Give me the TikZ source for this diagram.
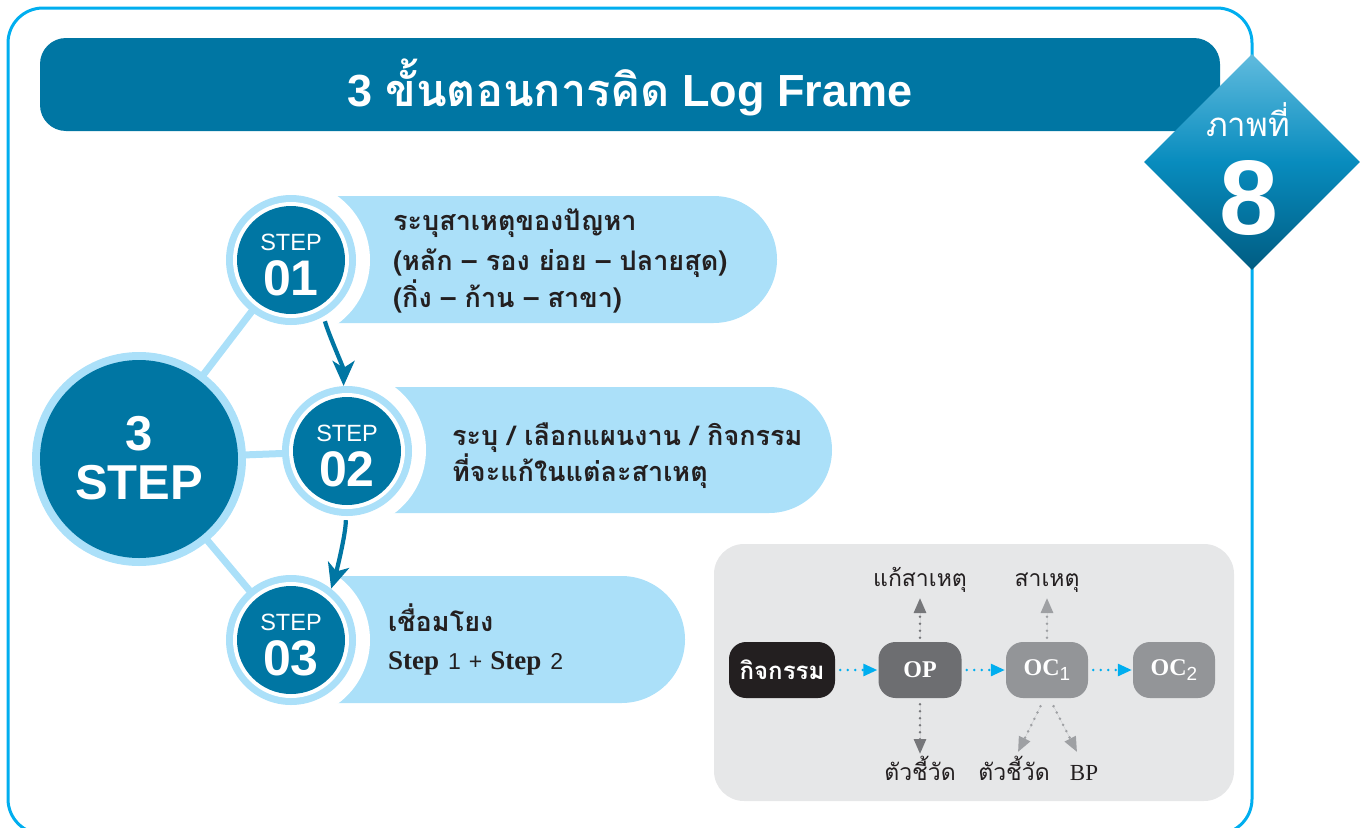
\documentclass[tikz,border=0pt]{standalone}
\usepackage{fontspec}
\setmainfont{Liberation Sans}
\newfontfamily\thai[Script=Thai]{Loma}
\newfontfamily\tms{Liberation Serif}
\usetikzlibrary{arrows.meta,shapes.geometric,shapes.misc}
\definecolor{frameC}{RGB}{0,174,239}
\definecolor{tealC}{RGB}{0,118,163}
\definecolor{lightb}{RGB}{171,224,249}
\definecolor{boxgray}{RGB}{230,231,232}
\definecolor{ink}{RGB}{35,31,32}
\definecolor{opgray}{RGB}{109,110,113}
\definecolor{ocgray}{RGB}{147,149,152}
\definecolor{arrgrayA}{RGB}{118,119,122}
\definecolor{arrgrayB}{RGB}{158,160,163}
\definecolor{dgTop}{RGB}{96,187,222}
\definecolor{dgMid}{RGB}{8,140,190}
\definecolor{dgBot}{RGB}{0,92,130}
\newcommand\setfs[2]{\fontsize{#1}{#2}\selectfont}
\pgfdeclarelayer{bg}
\pgfdeclarelayer{mid}
\pgfsetlayers{bg,mid,main}
\begin{document}
\begin{tikzpicture}[x=1pt,y=-1pt,
  stepring/.style={circle,fill=lightb,minimum size=130pt,inner sep=0pt},
  pill/.style={rounded rectangle,rounded rectangle left arc=none,fill=lightb,inner sep=0pt},
  steptop/.style={anchor=base,text=white,inner sep=0pt,font=\setfs{23.5}{24}},
  stepnum/.style={anchor=base,text=white,inner sep=0pt,font=\setfs{50}{50}\bfseries},
  boxtxt/.style={anchor=base west,text=ink,inner sep=0pt,font=\thai\setfs{27}{30}\bfseries},
  gnode/.style={rounded corners=17pt,minimum height=56pt,inner sep=0pt,text=white},
  lbl/.style={anchor=base,text=ink,inner sep=0pt},
  cyarrow/.style={draw=frameC,line width=2.8pt,line cap=round,dash pattern=on 0pt off 7.5pt,
     -{Triangle[length=14pt,width=12pt]},shorten <=5pt,shorten >=1pt},
  garrow/.style={line width=2.8pt,line cap=round,dash pattern=on 0pt off 7pt,
     -{Triangle[length=15pt,width=12pt]}},
  tealarrow/.style={draw=tealC,line width=4.2pt,-{Stealth[length=25pt,width=22pt,inset=7pt]}}
]
\useasboundingbox (0,0) rectangle (1370,827);

\begin{pgfonlayer}{bg}
  % outer frame
  \draw[frameC,line width=3pt,rounded corners=35pt] (8,8) rectangle (1252,834);
  % pills
  \node[pill,minimum width=486pt,minimum height=127pt] (p1) at (534,259.5) {};
  \node[pill,minimum width=485pt,minimum height=126pt] (p2) at (589.5,450) {};
  \node[pill,minimum width=394pt,minimum height=127pt] (p3) at (488,639.5) {};
  % white gaps round the step circles
  \fill[white] (291,260) circle (79);
  \fill[white] (347,450) circle (79);
  \fill[white] (291,640) circle (79);
\end{pgfonlayer}

% title bar
\node[fill=tealC,rounded corners=26pt,minimum width=1180pt,minimum height=93pt,inner sep=0pt] (title) at (630,84.5) {};
\node[anchor=base,text=white,inner sep=0pt] (titletext) at (630,106)
  {\setfs{45}{48}\bfseries 3 {\thai ขั้นตอนการคิด} Log Frame};

% diamond badge
\node[diamond,aspect=1,minimum width=216pt,minimum height=216pt,inner sep=0pt,
  top color=dgTop,bottom color=dgBot,middle color=dgMid] (dia) at (1252,162) {};
\node[anchor=base,text=white,inner sep=0pt] (diat) at (1248,136) {\thai\setfs{33}{35}ภาพที่};
\node[anchor=base,text=white,inner sep=0pt] (dian) at (1249,234) {\setfs{106}{106}\bfseries 8};

% big circle
\fill[lightb] (139,459) circle (107);
\node[circle,fill=tealC,minimum size=198pt,inner sep=0pt] (B) at (139,459) {};
\node[anchor=base,text=white,inner sep=0pt] (B3) at (139,450) {\setfs{49}{50}\bfseries 3};
\node[anchor=base,text=white,inner sep=0pt] (Bs) at (139,499) {\setfs{49}{50}\bfseries STEP};

% step circles
\node[stepring] (s1) at (291,260) {};
\fill[white] (s1) circle (58); \fill[tealC] (s1) circle (54);
\node[steptop] (s1a) at (291,250) {STEP};
\node[stepnum] (s1b) at (291,295) {01};

\node[stepring] (s2) at (347,451) {};
\fill[white] (s2) circle (58); \fill[tealC] (s2) circle (54);
\node[steptop] (s2a) at (347,441) {STEP};
\node[stepnum] (s2b) at (347,486) {02};

\node[stepring] (s3) at (291,640) {};
\fill[white] (s3) circle (58); \fill[tealC] (s3) circle (54);
\node[steptop] (s3a) at (291,630) {STEP};
\node[stepnum] (s3b) at (291,675) {03};

% connectors from the big circle
\begin{pgfonlayer}{mid}
  \draw[lightb,line width=7pt] (B.center) -- (s1.center);
  \draw[lightb,line width=7pt] (B.center) -- (s2.center);
  \draw[lightb,line width=7pt] (B.center) -- (s3.center);
\end{pgfonlayer}

% step arrows
\draw[tealarrow,shorten <=5pt] (s1.-60) .. controls +(5,18) and +(0,-18) .. (s2.93);
\draw[tealarrow,shorten <=4pt] (s2.-91) .. controls +(0,18) and +(5,-16) .. (s3.52);

% pill texts
\node[boxtxt] (b1a) at (393,230) {ระบุสาเหตุของปัญหา};
\node[boxtxt] (b1b) at (393,270) {(หลัก – รอง ย่อย – ปลายสุด)};
\node[boxtxt] (b1c) at (393,307) {(กิ่ง – ก้าน – สาขา)};
\node[boxtxt] (b2a) at (452,445) {ระบุ / เลือกแผนงาน / กิจกรรม};
\node[boxtxt] (b2b) at (452,481) {ที่จะแก้ในแต่ละสาเหตุ};
\node[boxtxt] (b3a) at (388,631) {เชื่อมโยง};
\node[anchor=base west,text=ink,inner sep=0pt] (b3b) at (388,669)
  {\setfs{23}{30}{\tms\bfseries\setfs{27}{30}Step}\hspace{9pt}1\hspace{8pt}+\hspace{8pt}{\tms\bfseries\setfs{27}{30}Step}\hspace{9pt}2};

% grey panel
\node[fill=boxgray,rounded corners=30pt,minimum width=520pt,minimum height=257pt,inner sep=0pt] (gbox) at (974,672.5) {};
\node[gnode,fill=ink,minimum width=106pt] (k) at (782,670) {\thai\setfs{24}{26}\bfseries กิจกรรม};
\node[gnode,fill=opgray,minimum width=83pt] (op) at (920,670) {\tms\bfseries\setfs{24}{26}OP};
\node[gnode,fill=ocgray,minimum width=82pt] (oc1) at (1047,670)
  {{\tms\bfseries\setfs{24}{26}OC}\raisebox{-5pt}{\setfs{19}{19}1}};
\node[gnode,fill=ocgray,minimum width=82pt] (oc2) at (1174,670)
  {{\tms\bfseries\setfs{24}{26}OC}\raisebox{-5pt}{\setfs{19}{19}2}};

\draw[cyarrow] (k) -- (op);
\draw[cyarrow] (op) -- (oc1);
\draw[cyarrow] (oc1) -- (oc2);

% labels
\node[lbl] (l1) at (920,586) {\thai\setfs{23}{25}แก้สาเหตุ};
\node[lbl] (l2) at (1047,586) {\thai\setfs{23}{25}สาเหตุ};
\node[lbl] (l3) at (920,780) {\thai\setfs{23}{25}ตัวชี้วัด};
\node[lbl] (l4) at (1014,780) {\thai\setfs{23}{25}ตัวชี้วัด};
\node[lbl] (l5) at (1084,780) {\tms\setfs{23}{25}BP};

\coordinate (a1) at (920,598);
\coordinate (a2) at (920,754);
\coordinate (a3) at (1047,598);
\coordinate (a4) at (1018,752);
\coordinate (a5) at (1077,752);
\draw[garrow,draw=arrgrayA,fill=arrgrayA,shorten <=4pt] (op.north) -- (a1);
\draw[garrow,draw=arrgrayA,fill=arrgrayA,shorten <=6pt] (op.south) -- (a2);
\draw[garrow,draw=arrgrayB,fill=arrgrayB,shorten <=4pt] (oc1.north) -- (a3);
\draw[garrow,draw=arrgrayB,fill=arrgrayB,shorten <=9pt] (oc1.-95) -- (a4);
\draw[garrow,draw=arrgrayB,fill=arrgrayB,shorten <=9pt] (oc1.-85) -- (a5);
\end{tikzpicture}
\end{document}
